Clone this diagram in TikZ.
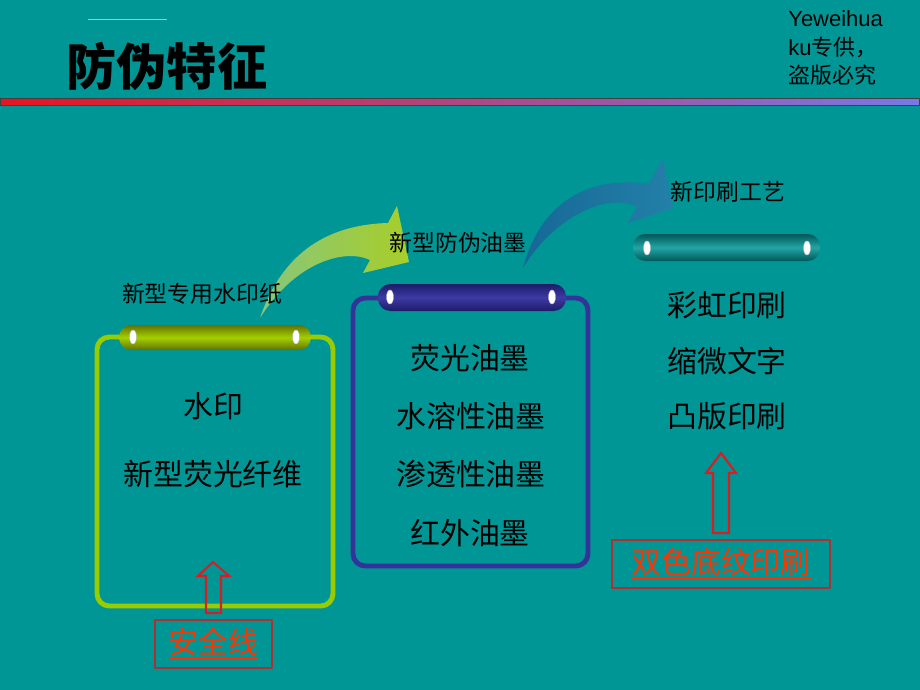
\documentclass[tikz,border=0pt]{standalone}
\usepackage{fontspec}
\setmainfont{Liberation Sans}
\newfontfamily\cjk{Noto Sans CJK SC}
\usetikzlibrary{positioning}
\definecolor{slide}{RGB}{0,150,150}
\definecolor{lime}{RGB}{153,204,0}
\definecolor{limedark}{RGB}{100,112,0}
\definecolor{indigo}{RGB}{51,51,153}
\definecolor{indigodark}{RGB}{28,28,105}
\definecolor{indigolite}{RGB}{62,58,165}
\definecolor{tealdark}{RGB}{0,88,88}
\definecolor{teallite}{RGB}{35,165,165}
\definecolor{greentail}{RGB}{135,198,125}
\definecolor{greenhead}{RGB}{168,206,40}
\definecolor{bluetail}{RGB}{22,104,150}
\definecolor{bluehead}{RGB}{35,128,168}
\definecolor{arrowred}{RGB}{215,30,35}
\definecolor{boxred}{RGB}{170,50,50}
\definecolor{labelred}{RGB}{255,51,0}
\definecolor{barred}{RGB}{232,20,30}
\definecolor{barblue}{RGB}{120,120,232}

\begin{document}
\begin{tikzpicture}[x=0.02cm,y=-0.02cm,line join=round,
    panel/.style={line width=2.8pt,rounded corners=7pt},
    tab/.style={rounded corners=7pt},
    hole/.style={fill=white,draw=black!30,line width=0.2pt},
    caption/.style={font=\cjk\fontsize{13}{15}\selectfont,text=black,inner sep=0pt},
    item/.style={font=\cjk\fontsize{17}{20}\selectfont,text=black,inner sep=0pt},
    hollow/.style={draw=arrowred,line width=1.2pt,line join=miter},
    redlabel/.style={draw=boxred,line width=0.9pt,text=labelred,
      font=\cjk\fontsize{17}{20}\selectfont,inner sep=0pt}]

    \useasboundingbox (0,0) rectangle (920,690);
    \fill[slide] (0,0) rectangle (920,690);

    % heading
    \draw[white!55!slide,line width=0.5pt] (88,19) -- (167,19);
    \node[font=\cjk\bfseries\fontsize{28.5}{32}\selectfont,inner sep=0pt] (title) at (167,66) {防伪特征};
    \node[anchor=north west,align=left,inner sep=0pt,font=\fontsize{12.5}{16.4}\selectfont] (mark) at (788,10)
      {Yeweihua\\ku{\cjk 专供，}\\{\cjk 盗版必究}};
    \shadedraw[left color=barred,right color=barblue,draw=black!75,line width=0.5pt] (0,98) rectangle (919,105);

    % curved arrows
    \path[left color=greentail,right color=greenhead]
      (260,318) .. controls (278,265) and (315,225) .. (388,223) -- (397,206) -- (409,262) -- (363,273)
      -- (370,260) .. controls (345,248) and (295,262) .. cycle;
    \path[left color=bluetail,right color=bluehead]
      (523,268) .. controls (540,205) and (585,175) .. (649,184) -- (663,158) -- (673,208) -- (628,223)
      -- (637,207) .. controls (610,192) and (555,215) .. cycle;

    % left panel
    \draw[panel,lime] (97,337) rectangle (333,606);
    \shade[tab,top color=limedark,bottom color=limedark,middle color=lime!90!yellow] (119,325) rectangle (311,350);
    \path[hole] (133,337) ellipse (2pt and 4pt);
    \path[hole] (296,337) ellipse (2pt and 4pt);
    \node[caption] (paper) at (202,294) {新型专用水印纸};
    \node[item] (watermark) at (213,406) {水印};
    \node[item] (fibre) at (213,474) {新型荧光纤维};

    % middle panel
    \draw[panel,indigo] (353,298) rectangle (588,566);
    \shade[tab,top color=indigodark,bottom color=indigodark,middle color=indigolite] (378,284) rectangle (566,311);
    \path[hole] (390,297) ellipse (2pt and 4pt);
    \path[hole] (552,297) ellipse (2pt and 4pt);
    \node[caption] (ink) at (458,243) {新型防伪油墨};
    \node[item] (ink1) at (470,358) {荧光油墨};
    \node[item] (ink2) at (471,416) {水溶性油墨};
    \node[item] (ink3) at (471,474) {渗透性油墨};
    \node[item] (ink4) at (470,533) {红外油墨};

    % right column
    \shade[tab,top color=tealdark,bottom color=tealdark,middle color=teallite] (633,234) rectangle (820,261);
    \path[hole] (647,248) ellipse (2pt and 4pt);
    \path[hole] (807,248) ellipse (2pt and 4pt);
    \node[caption] (craft) at (728,192) {新印刷工艺};
    \node[item] (print1) at (727,305) {彩虹印刷};
    \node[item] (print2) at (727,361) {缩微文字};
    \node[item] (print3) at (727,416) {凸版印刷};

    % red notes
    \draw[hollow] (213,562) -- (229,576) -- (221,576) -- (221,613) -- (206,613) -- (206,576) -- (198,576) -- cycle;
    \node[redlabel,minimum width=2.34cm,minimum height=0.96cm] (thread) at (213.5,644) {\underline{安全线}};
    \draw[hollow] (721,453) -- (736,473) -- (729,473) -- (729,533) -- (713,533) -- (713,473) -- (706,473) -- cycle;
    \node[redlabel,minimum width=4.36cm,minimum height=0.96cm] (twotone) at (721,564) {\underline{双色底纹印刷}};
\end{tikzpicture}
\end{document}
